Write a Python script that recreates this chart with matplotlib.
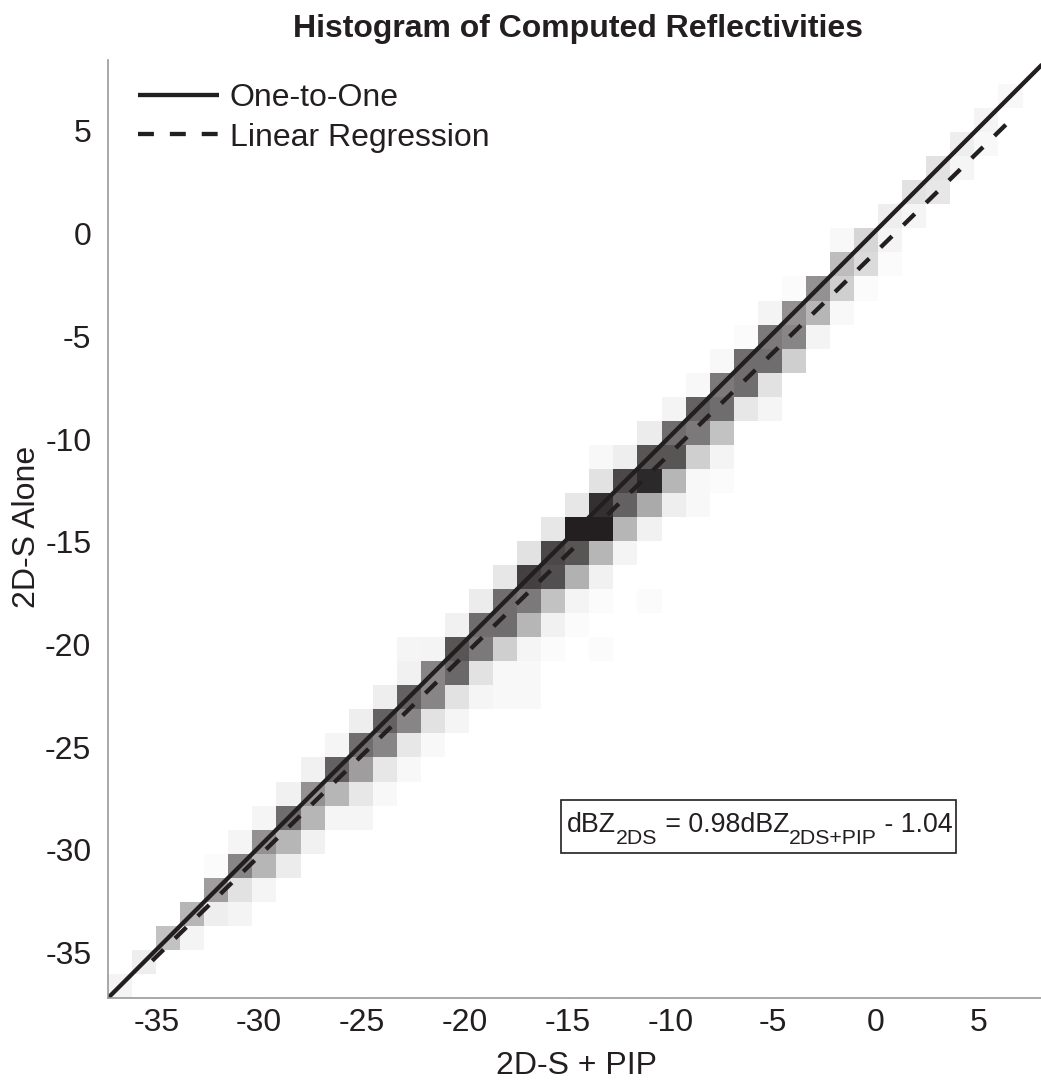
import numpy as np
import matplotlib
matplotlib.use("Agg")
import matplotlib.pyplot as plt
from matplotlib.colors import LinearSegmentedColormap
from matplotlib.transforms import ScaledTranslation
from matplotlib.patches import Rectangle

plt.rcParams['font.family'] = ['Liberation Sans', 'DejaVu Sans']

# ---------------- data ----------------
axis_lo, axis_hi, n_bins = -37.35, 8.3, 39
# per row of the 2D histogram (2D-S Alone bin index): first column index and relative frequencies
row_start = [0, 1, 2, 3, 4, 4, 5, 6, 7, 8, 9, 10, 11, 12, 12, 14, 15, 16, 17, 18,
             19, 20, 20, 22, 23, 24, 25, 26, 27, 28, 30, 30, 32, 33, 34, 35, 36, 37]
row_vals = [
    [0.05],
    [0.07],
    [0.25, 0.05],
    [0.30, 0.07, 0.05],
    [0.40, 0.12, 0.04],
    [0.02, 0.50, 0.30, 0.08],
    [0.04, 0.45, 0.30, 0.06],
    [0.04, 0.60, 0.30, 0.04, 0.04],
    [0.06, 0.45, 0.30, 0.10, 0.03],
    [0.06, 0.65, 0.40, 0.10, 0.03],
    [0.04, 0.60, 0.50, 0.10, 0.03],
    [0.07, 0.65, 0.50, 0.12, 0.04],
    [0.07, 0.65, 0.50, 0.12, 0.04, 0.03, 0.03],
    [0.06, 0.50, 0.62, 0.12, 0.03, 0.03],
    [0.04, 0.05, 0.70, 0.55, 0.20, 0.04, 0.02, 0.00, 0.02],
    [0.06, 0.60, 0.60, 0.30, 0.06, 0.02],
    [0.08, 0.60, 0.55, 0.25, 0.05, 0.02, 0.00, 0.02],
    [0.10, 0.78, 0.72, 0.32, 0.06],
    [0.12, 0.75, 0.70, 0.30, 0.05],
    [0.10, 0.92, 0.92, 0.30, 0.06],
    [0.10, 0.85, 0.65, 0.35, 0.07, 0.03],
    [0.12, 0.75, 0.88, 0.30, 0.03, 0.02],
    [0.03, 0.07, 0.70, 0.70, 0.20, 0.05],
    [0.08, 0.60, 0.55, 0.25],
    [0.05, 0.65, 0.60, 0.10, 0.04],
    [0.03, 0.55, 0.60, 0.12],
    [0.03, 0.60, 0.60, 0.20],
    [0.02, 0.55, 0.50, 0.05],
    [0.05, 0.45, 0.30, 0.03],
    [0.02, 0.45, 0.20, 0.02],
    [0.27, 0.15, 0.02],
    [0.03, 0.17, 0.05],
    [0.07, 0.04],
    [0.12, 0.10],
    [0.12, 0.04],
    [0.07, 0.03],
    [0.05],
    [0.03],
]
fit_slope, fit_intercept = 0.98, -1.04
fit_range = [-35.2, 6.5]
ticks = [-35, -30, -25, -20, -15, -10, -5, 0, 5]
tick_labels = ['-35', '-30', '-25', '-20', '-15', '-10', '-5', '0', '5']
# equation pieces: (text, is_subscript)
eq_pieces = [('dBZ', False), ('2DS', True), (' = 0.98dBZ', False),
             ('2DS+PIP', True), (' - 1.04', False)]

# ---------------- build histogram ----------------
edges = np.linspace(axis_lo, axis_hi, n_bins + 1)
counts = np.zeros((n_bins, n_bins))
for j, (s, vals) in enumerate(zip(row_start, row_vals)):
    for k, v in enumerate(vals):
        counts[j, s + k] = v

W, H = 1041, 1080
fig = plt.figure(figsize=(W / 100, H / 100), dpi=100)
ax = fig.add_axes([108 / W, 82 / H, 938.6 / W, 938 / H])

cmap = LinearSegmentedColormap.from_list('g', ['#ffffff', '#231f20'])
ax.pcolormesh(edges, edges, counts, cmap=cmap, vmin=0, vmax=0.92,
              shading='flat', zorder=2)

ax.set_xlim(axis_lo, axis_hi)
ax.set_ylim(axis_lo, axis_hi)

lw = 3.1
ax.plot([axis_lo, axis_hi], [axis_lo, axis_hi], color='#231f20', lw=lw,
        solid_capstyle='butt', zorder=4, label='One-to-One')
fx = np.array(fit_range)
ax.plot(fx, fit_slope * fx + fit_intercept, color='#231f20', lw=lw,
        linestyle=(0, (3.7, 3.7)), dash_capstyle='butt', zorder=4,
        label='Linear Regression')

ax.set_xticks(ticks)
ax.set_xticklabels(tick_labels)
ax.set_yticks(ticks)
ax.set_yticklabels(tick_labels)
ax.tick_params(axis='both', direction='in', length=5, width=0.8, color='#999999',
               labelsize=23, labelcolor='#231f20')
ax.tick_params(axis='y', pad=12)
ax.tick_params(axis='x', pad=7)
shift = ScaledTranslation(0, -3 / 100, fig.dpi_scale_trans)
for lab in ax.get_yticklabels():
    lab.set_transform(lab.get_transform() + shift)
ax.grid(True, color='#d9d9d9', lw=0.8, linestyle=(0, (1, 4)), zorder=1)
ax.set_axisbelow(True)
for side in ['top', 'right']:
    ax.spines[side].set_visible(False)
for side in ['left', 'bottom']:
    ax.spines[side].set_color('#999999')
    ax.spines[side].set_linewidth(1.2)
    ax.spines[side].set_zorder(5)

leg = ax.legend(loc='upper left', bbox_to_anchor=(138 / W, 1 - 83 / H),
                bbox_transform=fig.transFigure, frameon=False, fontsize=23,
                handlelength=2.55, handletextpad=0.32, labelspacing=0.3,
                borderpad=0, borderaxespad=0)
for t in leg.get_texts():
    t.set_color('#231f20')

fig.text(578 / W, 1 - 29 / H, 'Histogram of Computed Reflectivities',
         ha='center', va='center', fontsize=23, fontweight='bold', color='#231f20')
fig.text(576 / W, 1 - 1066 / H, '2D-S + PIP', ha='center', va='center',
         fontsize=23, color='#231f20')
fig.text(27 / W, 1 - 527 / H, '2D-S Alone', ha='center', va='center',
         rotation=90, fontsize=23, color='#231f20')

# equation box, composed of main-size and subscript pieces
fig.add_artist(Rectangle((561 / W, 1 - 853 / H), 395 / W, 53 / H,
                         transform=fig.transFigure, facecolor='white',
                         edgecolor='#231f20', lw=1.2, zorder=6))
renderer = fig.canvas.get_renderer()
x_px = 567.0
base_main = 832.0
base_sub = 844.0
for txt, sub in eq_pieces:
    t = fig.text(x_px / W, 1 - (base_sub if sub else base_main) / H,
                 txt.replace(' ', '\u00a0'),
                 ha='left', va='baseline', fontsize=15.3 if sub else 19.3,
                 color='#231f20', zorder=7)
    bb = t.get_window_extent(renderer=renderer)
    x_px = bb.x1

fig.savefig('out.png', dpi=100)
